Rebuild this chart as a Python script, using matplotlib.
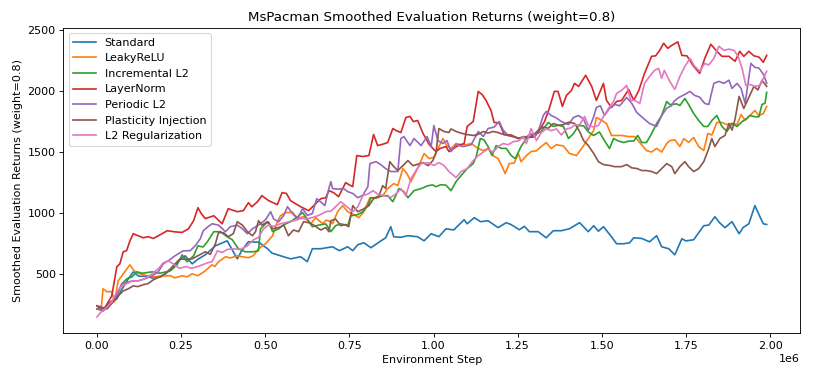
import matplotlib
matplotlib.use("Agg")
import matplotlib.pyplot as plt

# (environment step in millions, smoothed return)
STANDARD = [(0, 212), (0.02, 215), (0.04, 270), (0.059, 294), (0.075, 377), (0.093, 459), (0.108, 516),
            (0.125, 480), (0.149, 480), (0.164, 465), (0.19, 475), (0.223, 541), (0.24, 599), (0.262, 648),
            (0.283, 582), (0.30, 620), (0.322, 656), (0.352, 730), (0.387, 771), (0.40, 706), (0.417, 623),
            (0.43, 690), (0.45, 763), (0.48, 760), (0.507, 706), (0.52, 670), (0.555, 640), (0.575, 623),
            (0.605, 640), (0.625, 600), (0.64, 706), (0.665, 706), (0.70, 722), (0.72, 690), (0.745, 722),
            (0.76, 690), (0.775, 739), (0.793, 755), (0.814, 714), (0.838, 760), (0.858, 796), (0.873, 887),
            (0.882, 804), (0.903, 800), (0.924, 813), (0.953, 804), (0.972, 771), (0.993, 829), (1.016, 805),
            (1.037, 870), (1.06, 860), (1.091, 944), (1.10, 911), (1.121, 961), (1.14, 928), (1.162, 936),
            (1.192, 879), (1.216, 920), (1.23, 905), (1.255, 862), (1.27, 890), (1.285, 846), (1.311, 846),
            (1.335, 796), (1.356, 854), (1.38, 854), (1.404, 870), (1.434, 920), (1.46, 846), (1.476, 895),
            (1.49, 850), (1.505, 887), (1.529, 804), (1.544, 747), (1.565, 747), (1.583, 755), (1.595, 796),
            (1.619, 790), (1.642, 763), (1.663, 813), (1.678, 722), (1.699, 706), (1.717, 656), (1.738, 788),
            (1.75, 770), (1.773, 780), (1.803, 895), (1.818, 900), (1.836, 969), (1.85, 920), (1.866, 879),
            (1.887, 928), (1.908, 829), (1.92, 880), (1.937, 911), (1.955, 1060), (1.97, 969), (1.98, 911),
            (1.99, 905)]

LEAKYRELU = [(0, 212), (0.012, 200), (0.018, 377), (0.03, 352), (0.044, 355), (0.052, 270), (0.063, 442),
             (0.074, 484), (0.089, 541), (0.098, 574), (0.11, 525), (0.128, 500), (0.164, 475), (0.188, 480),
             (0.218, 485), (0.232, 467), (0.253, 484), (0.268, 475), (0.283, 500), (0.30, 484), (0.322, 525),
             (0.342, 574), (0.35, 560), (0.361, 599), (0.382, 640), (0.396, 630), (0.417, 648), (0.432, 640),
             (0.45, 632), (0.465, 650), (0.48, 706), (0.501, 747), (0.522, 813), (0.534, 911), (0.545, 977),
             (0.56, 1002), (0.581, 1005), (0.596, 953), (0.614, 970), (0.635, 911), (0.65, 961), (0.671, 911),
             (0.68, 940), (0.695, 928), (0.70, 911), (0.715, 1010), (0.73, 1060), (0.745, 1010), (0.763, 986),
             (0.778, 961), (0.793, 1010), (0.811, 1125), (0.829, 1120), (0.849, 1142), (0.864, 1200),
             (0.882, 1241), (0.894, 1225), (0.909, 1364), (0.921, 1323), (0.933, 1257), (0.948, 1340),
             (0.963, 1430), (0.972, 1488), (0.987, 1446), (1.00, 1455), (1.016, 1545), (1.028, 1611),
             (1.04, 1550), (1.052, 1529), (1.067, 1570), (1.082, 1560), (1.097, 1560), (1.112, 1570),
             (1.133, 1529), (1.148, 1512), (1.162, 1530), (1.177, 1471), (1.192, 1446), (1.204, 1380),
             (1.213, 1323), (1.225, 1405), (1.24, 1410), (1.252, 1488), (1.26, 1421), (1.276, 1471),
             (1.29, 1504), (1.306, 1510), (1.32, 1545), (1.335, 1578), (1.35, 1529), (1.365, 1560),
             (1.386, 1550), (1.404, 1488), (1.425, 1471), (1.435, 1510), (1.446, 1553), (1.46, 1611),
             (1.476, 1677), (1.484, 1784), (1.5, 1760), (1.514, 1734), (1.529, 1636), (1.544, 1636),
             (1.559, 1636), (1.58, 1627), (1.598, 1627), (1.613, 1578), (1.633, 1512), (1.648, 1500),
             (1.663, 1530), (1.678, 1500), (1.693, 1570), (1.702, 1594), (1.717, 1600), (1.732, 1545),
             (1.744, 1610), (1.758, 1580), (1.773, 1619), (1.788, 1545), (1.803, 1512), (1.815, 1652),
             (1.827, 1640), (1.842, 1743), (1.857, 1743), (1.872, 1725), (1.887, 1735), (1.902, 1726),
             (1.914, 1808), (1.926, 1760), (1.94, 1800), (1.955, 1841), (1.967, 1800), (1.98, 1816),
             (1.99, 1874)]

INCREMENTAL_L2 = [(0, 212), (0.02, 200), (0.044, 270), (0.059, 319), (0.074, 418), (0.089, 459), (0.104, 475),
                  (0.119, 516), (0.134, 505), (0.164, 516), (0.188, 505), (0.218, 525), (0.238, 574),
                  (0.253, 656), (0.268, 599), (0.287, 648), (0.30, 730), (0.315, 720), (0.328, 763),
                  (0.347, 846), (0.367, 846), (0.387, 804), (0.402, 780), (0.42, 706), (0.441, 681),
                  (0.465, 681), (0.48, 690), (0.486, 870), (0.501, 911), (0.51, 925), (0.522, 846),
                  (0.54, 870), (0.555, 903), (0.575, 928), (0.596, 969), (0.611, 1002), (0.625, 950),
                  (0.64, 887), (0.659, 900), (0.68, 910), (0.695, 846), (0.709, 895), (0.724, 911),
                  (0.745, 895), (0.754, 977), (0.775, 986), (0.79, 1010), (0.805, 1060), (0.814, 1125),
                  (0.829, 1125), (0.849, 1142), (0.864, 1142), (0.879, 1092), (0.888, 1142), (0.897, 1200),
                  (0.912, 1175), (0.924, 1125), (0.942, 1183), (0.963, 1200), (0.984, 1224), (0.998, 1230),
                  (1.007, 1215), (1.022, 1232), (1.037, 1228), (1.052, 1183), (1.067, 1257), (1.082, 1307),
                  (1.10, 1364), (1.118, 1405), (1.127, 1463), (1.139, 1611), (1.15, 1600), (1.162, 1545),
                  (1.174, 1471), (1.186, 1553), (1.201, 1530), (1.216, 1530), (1.231, 1471), (1.243, 1446),
                  (1.26, 1545), (1.276, 1611), (1.29, 1627), (1.306, 1650), (1.32, 1669), (1.341, 1743),
                  (1.356, 1710), (1.371, 1720), (1.386, 1710), (1.401, 1611), (1.416, 1652), (1.431, 1718),
                  (1.446, 1715), (1.46, 1665), (1.476, 1636), (1.493, 1665), (1.508, 1594), (1.523, 1529),
                  (1.535, 1611), (1.55, 1590), (1.565, 1578), (1.58, 1590), (1.595, 1590), (1.607, 1636),
                  (1.619, 1578), (1.633, 1578), (1.648, 1652), (1.663, 1734), (1.678, 1800), (1.693, 1915),
                  (1.702, 1890), (1.723, 1895), (1.732, 1882), (1.747, 1940), (1.758, 1891), (1.773, 1816),
                  (1.788, 1759), (1.803, 1710), (1.815, 1710), (1.827, 1759), (1.842, 1800), (1.857, 1710),
                  (1.872, 1669), (1.887, 1735), (1.902, 1710), (1.917, 1750), (1.931, 1776), (1.94, 1800),
                  (1.955, 1790), (1.967, 1790), (1.976, 1891), (1.985, 1900), (1.99, 1990)]

LAYERNORM = [(0, 237), (0.018, 195), (0.044, 319), (0.059, 558), (0.068, 582), (0.078, 681), (0.088, 690),
             (0.098, 771), (0.108, 829), (0.122, 813), (0.137, 796), (0.152, 805), (0.167, 790), (0.188, 821),
             (0.209, 854), (0.23, 845), (0.253, 840), (0.272, 870), (0.287, 936), (0.30, 1043), (0.31, 994),
             (0.322, 953), (0.347, 977), (0.372, 911), (0.39, 1035), (0.417, 1010), (0.435, 1019),
             (0.45, 1084), (0.46, 1051), (0.477, 1092), (0.49, 1142), (0.51, 1101), (0.536, 1068),
             (0.55, 1167), (0.563, 1160), (0.575, 1101), (0.605, 1051), (0.629, 1019), (0.65, 1076),
             (0.665, 1117), (0.68, 1125), (0.689, 1183), (0.703, 1167), (0.718, 1134), (0.739, 1249),
             (0.75, 1230), (0.76, 1216), (0.772, 1471), (0.79, 1463), (0.808, 1471), (0.822, 1644),
             (0.834, 1553), (0.85, 1565), (0.864, 1578), (0.879, 1693), (0.89, 1675), (0.903, 1660),
             (0.918, 1784), (0.93, 1792), (0.94, 1750), (0.953, 1759), (0.969, 1652), (0.987, 1562),
             (1.007, 1504), (1.02, 1530), (1.037, 1545), (1.046, 1504), (1.073, 1553), (1.091, 1570),
             (1.10, 1710), (1.118, 1751), (1.133, 1998), (1.145, 1970), (1.156, 1924), (1.171, 1841),
             (1.18, 1743), (1.195, 1740), (1.21, 1644), (1.231, 1640), (1.252, 1611), (1.268, 1620),
             (1.285, 1620), (1.30, 1625), (1.314, 1677), (1.33, 1751), (1.344, 1858), (1.359, 1998),
             (1.37, 1998), (1.383, 1874), (1.395, 1965), (1.41, 2006), (1.419, 2064), (1.431, 2039),
             (1.452, 2130), (1.47, 2039), (1.484, 1924), (1.505, 2064), (1.514, 1924), (1.529, 1866),
             (1.544, 1915), (1.559, 1924), (1.58, 2014), (1.595, 1924), (1.61, 2006), (1.627, 2146),
             (1.648, 2286), (1.66, 2290), (1.672, 2335), (1.684, 2393), (1.696, 2352), (1.708, 2376),
             (1.726, 2405), (1.738, 2294), (1.753, 2290), (1.773, 2204), (1.791, 2146), (1.806, 2269),
             (1.824, 2385), (1.842, 2327), (1.857, 2286), (1.878, 2286), (1.896, 2245), (1.91, 2327),
             (1.922, 2286), (1.937, 2327), (1.952, 2290), (1.967, 2280), (1.98, 2237), (1.99, 2294)]

PERIODIC_L2 = [(0, 212), (0.02, 200), (0.044, 260), (0.059, 330), (0.074, 418), (0.089, 430), (0.104, 440),
               (0.122, 442), (0.143, 460), (0.164, 484), (0.182, 516), (0.197, 582), (0.212, 607),
               (0.232, 648), (0.256, 689), (0.277, 690), (0.292, 730), (0.307, 788), (0.316, 854),
               (0.33, 887), (0.342, 911), (0.361, 900), (0.382, 846), (0.396, 887), (0.417, 900),
               (0.432, 870), (0.447, 829), (0.462, 870), (0.48, 900), (0.501, 944), (0.516, 1010),
               (0.525, 950), (0.54, 928), (0.555, 980), (0.566, 1051), (0.581, 995), (0.596, 953),
               (0.611, 1035), (0.625, 980), (0.64, 995), (0.653, 1117), (0.665, 1090), (0.677, 1060),
               (0.689, 1200), (0.695, 1257), (0.70, 1200), (0.718, 1195), (0.733, 1200), (0.745, 1175),
               (0.76, 1160), (0.775, 1125), (0.79, 1145), (0.805, 1216), (0.811, 1405), (0.829, 1421),
               (0.844, 1395), (0.858, 1364), (0.873, 1340), (0.894, 1340), (0.903, 1611), (0.912, 1627),
               (0.93, 1553), (0.942, 1611), (0.963, 1553), (0.981, 1627), (0.993, 1545), (1.001, 1718),
               (1.013, 1594), (1.028, 1570), (1.04, 1594), (1.052, 1504), (1.067, 1560), (1.088, 1545),
               (1.112, 1560), (1.133, 1669), (1.148, 1627), (1.162, 1693), (1.18, 1705), (1.195, 1751),
               (1.207, 1680), (1.222, 1636), (1.24, 1625), (1.26, 1611), (1.276, 1625), (1.29, 1650),
               (1.303, 1636), (1.314, 1693), (1.326, 1800), (1.335, 1833), (1.35, 1800), (1.365, 1780),
               (1.38, 1751), (1.401, 1725), (1.416, 1784), (1.431, 1800), (1.446, 1770), (1.46, 1677),
               (1.476, 1790), (1.484, 1866), (1.496, 1880), (1.508, 1800), (1.523, 1858), (1.538, 1891),
               (1.553, 1880), (1.574, 1948), (1.589, 1900), (1.604, 1825), (1.624, 1776), (1.642, 1734),
               (1.663, 1710), (1.678, 1800), (1.693, 1860), (1.708, 1882), (1.714, 1915), (1.729, 1948),
               (1.747, 1973), (1.762, 1998), (1.776, 1965), (1.791, 1950), (1.806, 1899), (1.818, 1890),
               (1.833, 2064), (1.848, 2080), (1.863, 2064), (1.878, 2090), (1.887, 2022), (1.902, 2064),
               (1.914, 2022), (1.926, 1899), (1.943, 2228), (1.955, 2195), (1.967, 2190), (1.982, 2130),
               (1.99, 2064)]

PLASTICITY_INJECTION = [(0, 237), (0.01, 230), (0.03, 212), (0.048, 270), (0.063, 319), (0.078, 360),
                        (0.093, 377), (0.108, 401), (0.122, 395), (0.137, 410), (0.152, 420), (0.167, 450),
                        (0.182, 470), (0.203, 500), (0.218, 541), (0.232, 582), (0.247, 623), (0.262, 618),
                        (0.283, 623), (0.30, 648), (0.322, 681), (0.337, 660), (0.352, 747), (0.361, 838),
                        (0.376, 838), (0.39, 804), (0.405, 830), (0.417, 928), (0.432, 900), (0.447, 846),
                        (0.462, 813), (0.471, 846), (0.48, 936), (0.49, 900), (0.507, 928), (0.522, 870),
                        (0.54, 880), (0.555, 900), (0.569, 813), (0.584, 860), (0.599, 846), (0.614, 928),
                        (0.629, 920), (0.644, 900), (0.665, 860), (0.68, 880), (0.689, 846), (0.695, 936),
                        (0.709, 950), (0.724, 895), (0.739, 905), (0.748, 887), (0.76, 1060), (0.775, 1010),
                        (0.79, 1030), (0.808, 1060), (0.822, 1117), (0.838, 1140), (0.849, 1224),
                        (0.858, 1200), (0.87, 1421), (0.882, 1380), (0.894, 1348), (0.909, 1388),
                        (0.924, 1430), (0.939, 1388), (0.953, 1400), (0.969, 1413), (0.984, 1388),
                        (0.998, 1430), (1.007, 1488), (1.016, 1693), (1.031, 1669), (1.046, 1660),
                        (1.052, 1690), (1.067, 1669), (1.082, 1655), (1.097, 1645), (1.118, 1636),
                        (1.133, 1645), (1.148, 1669), (1.162, 1655), (1.177, 1669), (1.192, 1660),
                        (1.207, 1645), (1.222, 1636), (1.237, 1627), (1.252, 1611), (1.267, 1627),
                        (1.282, 1620), (1.297, 1640), (1.311, 1677), (1.326, 1705), (1.341, 1695),
                        (1.356, 1734), (1.371, 1720), (1.386, 1725), (1.401, 1745), (1.419, 1735),
                        (1.434, 1669), (1.446, 1594), (1.46, 1553), (1.476, 1488), (1.49, 1421),
                        (1.505, 1397), (1.523, 1390), (1.538, 1380), (1.559, 1380), (1.574, 1397),
                        (1.589, 1370), (1.604, 1365), (1.619, 1348), (1.633, 1348), (1.648, 1340),
                        (1.663, 1323), (1.678, 1364), (1.693, 1405), (1.708, 1380), (1.717, 1323),
                        (1.732, 1380), (1.747, 1421), (1.758, 1380), (1.773, 1340), (1.788, 1364),
                        (1.803, 1421), (1.818, 1529), (1.827, 1611), (1.836, 1545), (1.851, 1611),
                        (1.866, 1636), (1.878, 1734), (1.887, 1680), (1.896, 1770), (1.908, 1957),
                        (1.922, 1858), (1.934, 1930), (1.952, 2039), (1.964, 2010), (1.976, 2088),
                        (1.99, 2039)]

L2_REGULARIZATION = [(0, 146), (0.01, 180), (0.03, 228), (0.044, 270), (0.059, 352), (0.074, 401),
                     (0.089, 420), (0.104, 442), (0.122, 442), (0.143, 460), (0.164, 500), (0.182, 541),
                     (0.197, 590), (0.212, 607), (0.227, 580), (0.245, 545), (0.265, 560), (0.28, 545),
                     (0.30, 560), (0.328, 590), (0.342, 600), (0.358, 689), (0.372, 675), (0.387, 700),
                     (0.405, 705), (0.426, 700), (0.447, 730), (0.465, 780), (0.48, 800), (0.495, 870),
                     (0.51, 900), (0.525, 890), (0.545, 911), (0.566, 925), (0.584, 935), (0.605, 953),
                     (0.625, 953), (0.644, 965), (0.659, 980), (0.68, 1010), (0.695, 1015), (0.703, 1035),
                     (0.724, 1092), (0.739, 1060), (0.76, 1010), (0.775, 1050), (0.79, 1142), (0.805, 1155),
                     (0.82, 1183), (0.834, 1155), (0.852, 1142), (0.873, 1128), (0.888, 1155), (0.903, 1200),
                     (0.918, 1142), (0.933, 1282), (0.948, 1348), (0.963, 1405), (0.984, 1413), (1.001, 1390),
                     (1.016, 1413), (1.031, 1390), (1.046, 1340), (1.067, 1290), (1.082, 1340), (1.10, 1364),
                     (1.118, 1430), (1.133, 1470), (1.148, 1500), (1.162, 1525), (1.177, 1500), (1.192, 1545),
                     (1.207, 1570), (1.222, 1560), (1.237, 1586), (1.252, 1590), (1.267, 1625), (1.276, 1570),
                     (1.29, 1693), (1.306, 1594), (1.32, 1660), (1.335, 1690), (1.35, 1675), (1.365, 1690),
                     (1.38, 1640), (1.395, 1690), (1.41, 1700), (1.419, 1723), (1.434, 1723), (1.449, 1792),
                     (1.46, 1718), (1.476, 1705), (1.49, 1718), (1.505, 1792), (1.52, 1858), (1.535, 1915),
                     (1.544, 1981), (1.559, 2006), (1.574, 2047), (1.586, 1924), (1.598, 1924), (1.613, 1899),
                     (1.627, 2064), (1.642, 2121), (1.657, 2171), (1.669, 2187), (1.678, 2105), (1.686, 2171),
                     (1.702, 2080), (1.717, 2014), (1.732, 2121), (1.747, 2204), (1.762, 2269), (1.776, 2204),
                     (1.791, 2163), (1.806, 2228), (1.818, 2215), (1.833, 2269), (1.848, 2368), (1.863, 2335),
                     (1.878, 2345), (1.893, 2335), (1.905, 2286), (1.917, 2187), (1.928, 2047), (1.94, 2055),
                     (1.955, 2039), (1.97, 2047), (1.98, 2105), (1.99, 2163)]

SERIES_NAMES = ["Standard", "LeakyReLU", "Incremental L2", "LayerNorm", "Periodic L2",
                "Plasticity Injection", "L2 Regularization"]
SERIES_DATA = [STANDARD, LEAKYRELU, INCREMENTAL_L2, LAYERNORM, PERIODIC_L2,
               PLASTICITY_INJECTION, L2_REGULARIZATION]

TITLE = "MsPacman Smoothed Evaluation Returns (weight=0.8)"
XLABEL = "Environment Step"
YLABEL = "Smoothed Evaluation Returns (weight=0.8)"

fig = plt.figure(figsize=(814 / 80, 376 / 80), dpi=80)
ax = fig.add_subplot(111)
fig.subplots_adjust(left=0.078, right=0.983, bottom=0.115, top=0.926)

for name, data in zip(SERIES_NAMES, SERIES_DATA):
    xs = [p[0] * 1e6 for p in data]
    ys = [p[1] for p in data]
    ax.plot(xs, ys, label=name, linewidth=1.5)

ax.set_ylim(16, 2520)
ax.set_title(TITLE)
ax.set_xlabel(XLABEL)
ax.set_ylabel(YLABEL)
ax.legend(loc="upper left")

fig.savefig("out.png", dpi=80)
